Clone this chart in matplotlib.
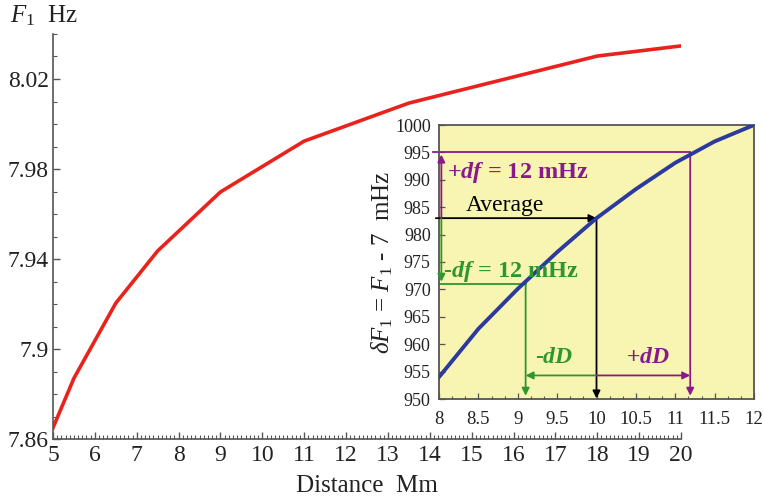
import matplotlib
matplotlib.use("Agg")
import matplotlib.pyplot as plt
from matplotlib.ticker import MultipleLocator, AutoMinorLocator

plt.rcParams['font.family'] = ['Liberation Serif', 'DejaVu Serif']
plt.rcParams['mathtext.fontset'] = 'custom'
plt.rcParams['mathtext.rm'] = 'Liberation Serif'
plt.rcParams['mathtext.it'] = 'Liberation Serif:italic'
plt.rcParams['mathtext.bf'] = 'Liberation Serif:bold'
plt.rcParams['mathtext.bfit'] = 'Liberation Serif:italic:bold'

# frequency vs distance (main curve)
distance = [5, 5.5, 6.5, 7.5, 9, 11, 13.5, 18, 20]
freq = [7.865, 7.887, 7.9204, 7.9436, 7.9698, 7.9924, 8.0093, 8.0302, 8.0347]

# zoomed curve: dF1 = F1 - 7 in mHz
zoom_D = [8, 8.5, 9, 9.5, 10, 10.5, 11, 11.5, 12]
zoom_dF = [954, 962.8, 970.1, 976.8, 983, 988.3, 993.1, 997.0, 1000]

# operating points
avg_D, avg_f = 10.0, 983
lo_D, lo_f = 9.1, 971
hi_D, hi_f = 11.19, 995

red = '#e8231c'
blue = '#2b3a9e'
purple = '#8a1a8a'
green = '#2e962e'
spine_col = '#555555'

fig = plt.figure(figsize=(7.63, 5.0), dpi=100)

# main axes
ax = fig.add_axes([53/763, 1-439/500, 628/763, 405/500])
ax.plot(distance, freq, color=red, lw=2.6)
ax.set_xlim(5, 20)
ax.set_ylim(7.86, 8.04)
ax.set_yticks([7.86, 7.9, 7.94, 7.98, 8.02])
ax.set_yticklabels(['7.86', '7.9', '7.94', '7.98', '8.02'])
ax.xaxis.set_major_locator(MultipleLocator(1))
ax.xaxis.set_minor_locator(AutoMinorLocator(10))
ax.yaxis.set_minor_locator(AutoMinorLocator(4))
for s in ['top', 'right']:
    ax.spines[s].set_visible(False)
for s in ['left', 'bottom']:
    ax.spines[s].set_color(spine_col)
    ax.spines[s].set_linewidth(1.2)
ax.tick_params(which='both', direction='in', colors=spine_col, labelcolor='#222222',
               labelsize=17)
ax.tick_params(which='major', length=5, width=1)
ax.tick_params(which='minor', length=3, width=0.8)
ax.tick_params(axis='x', pad=4)
ax.tick_params(axis='y', pad=3)
ax.set_xlabel('Distance  Mm', fontsize=18, color='#222222', labelpad=7)
fig.text(10/763, 1-16/500, r'$F_1$  Hz', fontsize=18, color='#222222', va='center', ha='left')

# inset
ins = fig.add_axes([439/763, 1-399/500, 315/763, 274/500])
ins.set_facecolor('#f8f5b2')
ins.plot(zoom_D, zoom_dF, color=blue, lw=2.8, zorder=5)
ins.set_xlim(8, 12)
ins.set_ylim(950, 1000)
ins.xaxis.set_major_locator(MultipleLocator(0.5))
ins.xaxis.set_minor_locator(AutoMinorLocator(3))
ins.yaxis.set_major_locator(MultipleLocator(5))
ins.xaxis.set_major_formatter(plt.FuncFormatter(lambda v, p: f'{v:g}'))
for s in ins.spines.values():
    s.set_color(spine_col)
    s.set_linewidth(1.3)
ins.tick_params(which='both', direction='in', colors=spine_col, labelcolor='#222222',
                labelsize=13)
ins.tick_params(which='major', length=4, width=0.9)
ins.tick_params(which='minor', length=2.5, width=0.8)
ins.tick_params(axis='x', which='major', labelsize=13.5, pad=9)
ins.tick_params(axis='y', which='major', pad=6)
ins.set_ylabel(r'$\delta F_1$ = $F_1$ - 7  mHz', fontsize=18, color='#222222', labelpad=0)

arrow = dict(arrowstyle='-|>', mutation_scale=11, shrinkA=0, shrinkB=0)

# +df branch (purple)
ins.plot([7.92, hi_D], [hi_f, hi_f], color=purple, lw=1.3, clip_on=False)
ins.annotate('', xy=(hi_D, 950.6), xytext=(hi_D, hi_f),
             arrowprops=dict(arrow, color=purple, lw=1.3))
ins.annotate('', xy=(8.03, hi_f - 0.4), xytext=(8.03, avg_f),
             arrowprops=dict(arrow, color=purple, lw=1.3))

# average (black)
ins.annotate('', xy=(avg_D, avg_f), xytext=(7.96, avg_f), annotation_clip=False,
             arrowprops=dict(arrow, color='black', lw=1.3))
ins.annotate('', xy=(avg_D, 950.1), xytext=(avg_D, avg_f),
             arrowprops=dict(arrow, color='black', lw=1.3))

# -df branch (green)
ins.plot([8.0, lo_D], [lo_f, lo_f], color=green, lw=1.3)
ins.annotate('', xy=(lo_D, 950.6), xytext=(lo_D, lo_f),
             arrowprops=dict(arrow, color=green, lw=1.3))
ins.annotate('', xy=(8.03, lo_f + 0.4), xytext=(8.03, avg_f),
             arrowprops=dict(arrow, color=green, lw=1.3))

# dD arrows
ins.annotate('', xy=(lo_D, 954.3), xytext=(avg_D, 954.3),
             arrowprops=dict(arrow, color=green, lw=1.3))
ins.annotate('', xy=(hi_D, 954.3), xytext=(avg_D, 954.3),
             arrowprops=dict(arrow, color=purple, lw=1.3))

ins.text(8.1, 991.3, r'+$\mathbfit{df}$ = 12 mHz', color=purple, fontsize=17.5,
         fontweight='bold', va='center', ha='left', zorder=6)
ins.text(8.34, 985.4, 'Average', color='black', fontsize=17, va='center', ha='left')
ins.text(8.05, 973.3, r'-$\mathbfit{df}$ = 12 mHz', color=green, fontsize=17.5,
         fontweight='bold', va='center', ha='left', zorder=6)
ins.text(9.22, 957.6, r'-$\mathbfit{dD}$', color=green, fontsize=17,
         fontweight='bold', va='center', ha='left')
ins.text(10.38, 957.6, r'+$\mathbfit{dD}$', color=purple, fontsize=17,
         fontweight='bold', va='center', ha='left')

fig.savefig('out.png', dpi=100)
